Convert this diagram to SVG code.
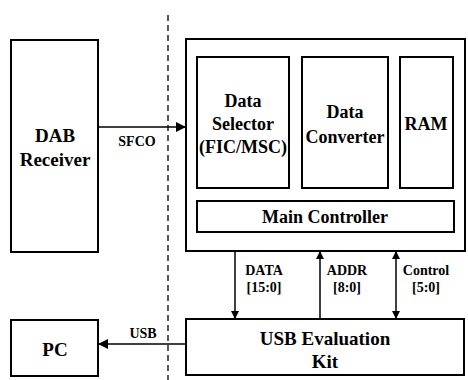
<svg xmlns="http://www.w3.org/2000/svg" width="468" height="380" viewBox="0 0 468 380">
<style>
.box{fill:#fff;stroke:#000;stroke-width:2}
text{font-family:'Liberation Serif','DejaVu Serif',serif;font-weight:bold;text-anchor:middle;fill:#000}
.big{font-size:19px}
.mid{font-size:18px}
.sm{font-size:14px}
.ln{stroke:#000;stroke-width:1.5;fill:none}
</style>
<defs>
<marker id="ah" viewBox="0 0 10 10" refX="10" refY="5" markerWidth="8" markerHeight="9" markerUnits="userSpaceOnUse" orient="auto-start-reverse">
<path d="M0,0 L10,5 L0,10 z" fill="#000"/>
</marker>
<marker id="ahb" viewBox="0 0 10 10" refX="10" refY="5" markerWidth="10" markerHeight="10" markerUnits="userSpaceOnUse" orient="auto-start-reverse">
<path d="M0,0 L10,5 L0,10 z" fill="#000"/>
</marker>
</defs>
<rect width="468" height="380" fill="#fff"/>
<line x1="168" y1="15" x2="168" y2="380" stroke="#000" stroke-width="1.3" stroke-dasharray="6,4"/>
<g id="dab">
<rect class="box" x="11" y="40" width="87" height="212"/>
<text class="big" x="55" y="142">DAB</text>
<text class="big" x="55" y="166">Receiver</text>
</g>
<g id="fpga">
<rect class="box" x="186" y="39" width="279" height="212"/>
</g>
<g id="selector">
<rect class="box" x="197" y="57" width="92" height="131"/>
<text class="mid" x="243" y="107">Data</text>
<text class="mid" x="243" y="130">Selector</text>
<text class="mid" x="243" y="153">(FIC/MSC)</text>
</g>
<g id="converter">
<rect class="box" x="302" y="57" width="86" height="131"/>
<text class="mid" x="345" y="118">Data</text>
<text class="mid" x="345" y="143">Converter</text>
</g>
<g id="ram">
<rect class="box" x="400" y="57" width="53" height="131"/>
<text class="mid" x="426" y="130">RAM</text>
</g>
<g id="main">
<rect class="box" x="197" y="201" width="257" height="31"/>
<text class="mid" x="325" y="223">Main Controller</text>
</g>
<g id="usbkit">
<rect class="box" x="186" y="319" width="278" height="56"/>
<text class="big" x="325" y="345">USB Evaluation</text>
<text class="big" x="325" y="368">Kit</text>
</g>
<g id="pc">
<rect class="box" x="11" y="320" width="87" height="56"/>
<text class="big" x="55" y="356">PC</text>
</g>
<g id="connectors">
<line class="ln" x1="98" y1="127" x2="186" y2="127" marker-end="url(#ahb)"/>
<text class="sm" x="137" y="146">SFCO</text>
<line class="ln" x1="186" y1="344" x2="98" y2="344" marker-end="url(#ahb)"/>
<text class="sm" x="143" y="338">USB</text>
<line class="ln" x1="235" y1="251" x2="235" y2="319" marker-end="url(#ah)"/>
<text class="sm" x="264" y="275">DATA</text>
<text class="sm" x="264" y="292">[15:0]</text>
<line class="ln" x1="320" y1="319" x2="320" y2="251" marker-end="url(#ah)"/>
<text class="sm" x="347" y="275">ADDR</text>
<text class="sm" x="347" y="292">[8:0]</text>
<line class="ln" x1="396" y1="251" x2="396" y2="319" marker-start="url(#ah)" marker-end="url(#ah)"/>
<text class="sm" x="426" y="275">Control</text>
<text class="sm" x="426" y="292">[5:0]</text>
</g>
</svg>
